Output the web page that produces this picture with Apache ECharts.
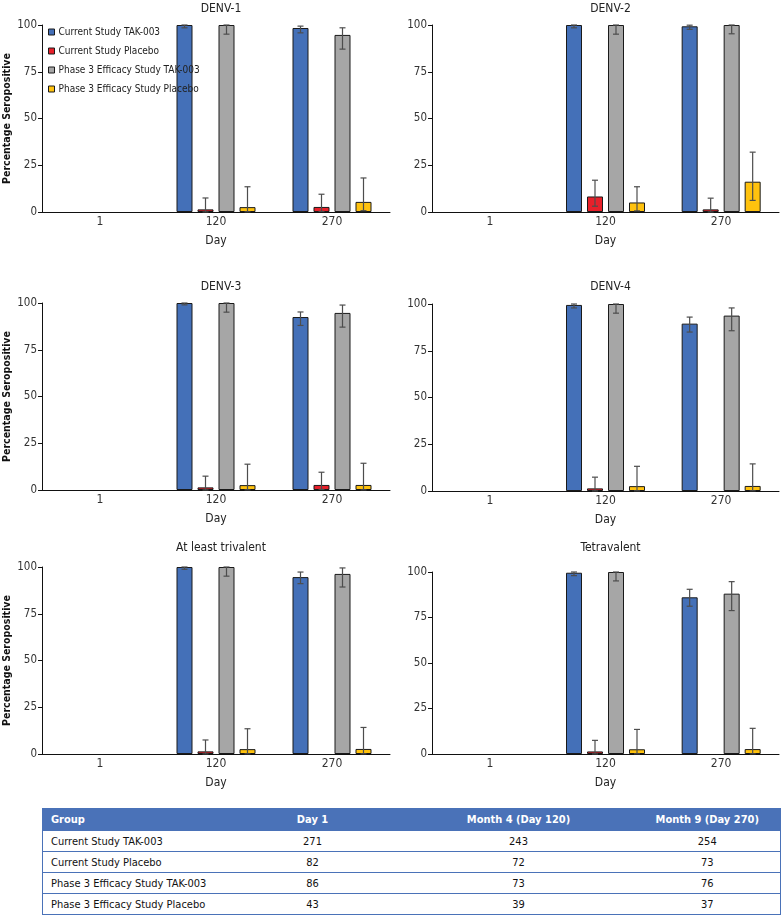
<!DOCTYPE html>
<html>
<head>
<meta charset="utf-8">
<title>Percentage Seropositive</title>
<script src="https://cdn.jsdelivr.net/npm/echarts@6/dist/echarts.min.js"></script>
<style>
  body { margin: 0; background: #fff; }
  #main { width: 781px; height: 800px; }
  #counts {
    position: absolute; left: 42px; top: 808px; width: 738px;
    border-collapse: collapse; table-layout: fixed;
    font-family: 'DejaVu Sans Condensed', 'Liberation Sans Narrow', sans-serif; font-size: 11px; color: #111;
    border: 1px solid #4a72b8;
  }
  #counts th { background: #4a72b8; color: #fff; font-weight: bold; height: 21px; padding: 0 8px; white-space: nowrap; }
  #counts td { height: 20px; padding: 0 8px; border-top: 1px solid #4a72b8; white-space: nowrap; }
  #counts .c { text-align: center; }
  #counts .l { text-align: left; }
</style>
</head>
<body>
<div id="main"></div>
<table id="counts"></table>
<script>
var days = ['1', '120', '270'];
var panelTitles = ['DENV-1', 'DENV-2', 'DENV-3', 'DENV-4', 'At least trivalent', 'Tetravalent'];
var groupNames = ['Current Study TAK-003', 'Current Study Placebo', 'Phase 3 Efficacy Study TAK-003', 'Phase 3 Efficacy Study Placebo'];
var groupColors = ['#4470b8', '#e8202a', '#a6a6a6', '#ffc20e'];

// one row per panel: [day 1, day 120, day 270]
var curTak = [[null, 100, 98.4], [null, 100, 99.3], [null, 100, 92.5], [null, 99.5, 89.5], [null, 100, 94.6], [null, 99.6, 86.1]];
var curTakLo = [[null, 98.5, 95.8], [null, 98.5, 97.7], [null, 99.0, 88.0], [null, 97.9, 85.0], [null, 98.8, 91.1], [null, 98.0, 81.2]];
var curTakHi = [[null, 100, 99.4], [null, 100, 99.9], [null, 100, 95.2], [null, 100, 93.0], [null, 100, 97.3], [null, 100, 90.5]];

var curPbo = [[null, 1.4, 2.7], [null, 8.3, 1.4], [null, 1.4, 2.7], [null, 1.4, null], [null, 1.4, null], [null, 1.4, null]];
var curPboLo = [[null, 0.04, 0.3], [null, 3.1, 0.03], [null, 0.04, 0.3], [null, 0.04, null], [null, 0.04, null], [null, 0.04, null]];
var curPboHi = [[null, 7.5, 9.5], [null, 17.0, 7.4], [null, 7.4, 9.5], [null, 7.4, null], [null, 7.5, null], [null, 7.5, null]];

var p3Tak = [[null, 100, 94.7], [null, 100, 100], [null, 100, 94.7], [null, 100, 93.8], [null, 100, 96.3], [null, 100, 88.1]];
var p3TakLo = [[null, 95.1, 87.1], [null, 95.1, 95.3], [null, 95.1, 87.1], [null, 95.1, 85.7], [null, 95.1, 89.3], [null, 95.1, 78.8]];
var p3TakHi = [[null, 100, 98.5], [null, 100, 100], [null, 100, 98.9], [null, 100, 97.9], [null, 100, 99.5], [null, 100, 94.7]];

var p3Pbo = [[null, 2.6, 5.4], [null, 5.1, 16.2], [null, 2.6, 2.7], [null, 2.6, 2.7], [null, 2.6, 2.7], [null, 2.6, 2.7]];
var p3PboLo = [[null, 0.1, 0.7], [null, 0.6, 6.2], [null, 0.1, 0.1], [null, 0.1, 0.1], [null, 0.1, 0.1], [null, 0.1, 0.1]];
var p3PboHi = [[null, 13.5, 18.2], [null, 13.5, 32.0], [null, 13.8, 14.3], [null, 13.2, 14.5], [null, 13.5, 14.2], [null, 13.5, 14.1]];

// subjects per group and visit (table under the charts)
var tableHeader = ['Group', 'Day 1', 'Month 4 (Day 120)', 'Month 9 (Day 270)'];
var nDay1 = [271, 82, 86, 43];
var nDay120 = [243, 72, 73, 39];
var nDay270 = [254, 73, 76, 37];

var vals = [curTak, curPbo, p3Tak, p3Pbo];
var los = [curTakLo, curPboLo, p3TakLo, p3PboLo];
var his = [curTakHi, curPboHi, p3TakHi, p3PboHi];

var FONT = "'DejaVu Sans Condensed', 'Liberation Sans Narrow', sans-serif";
var grids = [
  {left: 42, top: 25, width: 348, height: 187},
  {left: 432, top: 25, width: 347, height: 187},
  {left: 42, top: 303, width: 348, height: 187},
  {left: 432, top: 304, width: 347, height: 187},
  {left: 42, top: 567, width: 348, height: 187},
  {left: 432, top: 572, width: 347, height: 182}
];
var titleTops = [-2, -2, 276, 276, 537, 537];
var BAR_W = 16, BAR_GAP = 5;

function errorBar(off) {
  return function (params, api) {
    var i = api.value(0);
    var lo = api.coord([i, api.value(1)]);
    var hi = api.coord([i, api.value(2)]);
    var x = lo[0] + off;
    var st = {stroke: '#4d4d4d', lineWidth: 1.2};
    return {
      type: 'group',
      children: [
        {type: 'line', shape: {x1: x, y1: lo[1], x2: x, y2: hi[1]}, style: st},
        {type: 'line', shape: {x1: x - 3, y1: lo[1], x2: x + 3, y2: lo[1]}, style: st},
        {type: 'line', shape: {x1: x - 3, y1: hi[1], x2: x + 3, y2: hi[1]}, style: st}
      ]
    };
  };
}

var titles = [], xAxes = [], yAxes = [], series = [];
for (var p = 0; p < 6; p++) {
  var g = grids[p];
  titles.push({
    text: panelTitles[p], left: g.left + g.width / 2, top: titleTops[p], textAlign: 'center',
    textStyle: {fontFamily: FONT, fontSize: 12, fontWeight: 'normal', color: '#222'}
  });
  xAxes.push({
    gridIndex: p, type: 'category', data: days,
    axisLine: {lineStyle: {color: '#111', width: 1}}, axisTick: {show: false},
    axisLabel: {fontFamily: FONT, fontSize: 12, color: '#333', margin: 4},
    name: 'Day', nameLocation: 'middle', nameGap: 23,
    nameTextStyle: {fontFamily: FONT, fontSize: 12, color: '#222'}
  });
  yAxes.push({
    gridIndex: p, type: 'value', min: 0, max: 100, interval: 25,
    splitLine: {show: false},
    axisLine: {show: true, lineStyle: {color: '#111', width: 1}},
    axisTick: {show: true, length: 4, lineStyle: {color: '#111'}},
    axisLabel: {fontFamily: FONT, fontSize: 11.5, color: '#333', margin: 5},
    name: p % 2 === 0 ? 'Percentage Seropositive' : '', nameLocation: 'middle', nameGap: 29,
    nameTextStyle: {fontFamily: FONT, fontSize: 10.5, fontWeight: 'bold', color: '#111'}
  });
  for (var s = 0; s < 4; s++) {
    series.push({
      type: 'bar', name: groupNames[s], xAxisIndex: p, yAxisIndex: p,
      data: vals[s][p], barWidth: BAR_W, barGap: (BAR_GAP / BAR_W * 100) + '%',
      itemStyle: {color: groupColors[s], borderColor: '#1a1a1a', borderWidth: 1}
    });
    var errData = [];
    for (var d = 0; d < days.length; d++) {
      if (vals[s][p][d] != null) errData.push([d, los[s][p][d], his[s][p][d]]);
    }
    series.push({
      type: 'custom', xAxisIndex: p, yAxisIndex: p, z: 5, silent: true,
      renderItem: errorBar((s - 1.5) * (BAR_W + BAR_GAP)),
      encode: {x: 0, y: [1, 2]},
      data: errData
    });
  }
}

var chart = echarts.init(document.getElementById('main'));
chart.setOption({
  animation: false,
  title: titles,
  legend: {
    data: groupNames, orient: 'vertical', left: 43, top: 22,
    icon: 'rect', itemWidth: 6, itemHeight: 6, itemGap: 9, itemStyle: {borderWidth: 1},
    textStyle: {fontFamily: FONT, fontSize: 10, color: '#222', padding: [0, 0, 0, -1]}
  },
  grid: grids,
  xAxis: xAxes,
  yAxis: yAxes,
  series: series
});

// table of n per group
var tbl = document.getElementById('counts');
var colW = [180, 180, 232, 146];
var html = '<colgroup>';
for (var c = 0; c < colW.length; c++) html += '<col style="width:' + colW[c] + 'px">';
html += '</colgroup><tr>';
for (var c = 0; c < tableHeader.length; c++) html += '<th class="' + (c === 0 ? 'l' : 'c') + '">' + tableHeader[c] + '</th>';
html += '</tr>';
for (var r = 0; r < groupNames.length; r++) {
  html += '<tr><td class="l">' + groupNames[r] + '</td><td class="c">' + nDay1[r] + '</td><td class="c">' + nDay120[r] + '</td><td class="c">' + nDay270[r] + '</td></tr>';
}
tbl.innerHTML = html;
</script>
</body>
</html>
